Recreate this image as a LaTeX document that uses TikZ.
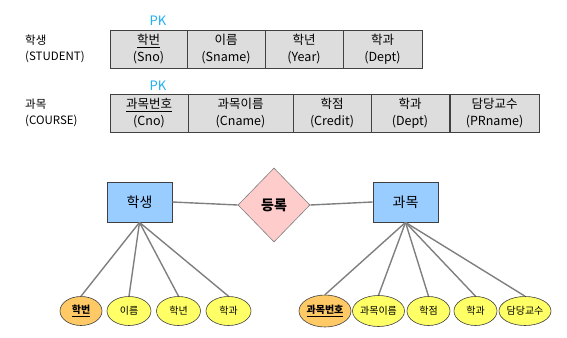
\documentclass[tikz,border=0pt]{standalone}
\usepackage{fontspec}
\setmainfont{Noto Sans CJK KR}
\usetikzlibrary{shapes.geometric}
\definecolor{cellfill}{HTML}{DDDDDD}
\definecolor{edgedark}{HTML}{404040}
\definecolor{pkblue}{HTML}{1FB0F0}
\definecolor{entfill}{HTML}{99CCFF}
\definecolor{relfill}{HTML}{FFCCCC}
\definecolor{attfill}{HTML}{FFFF66}
\definecolor{keyfill}{HTML}{FFC966}
\definecolor{linkgray}{HTML}{7F7F7F}
\tikzset{
  cell/.style={draw=edgedark, fill=cellfill, line width=0.8pt, minimum height=38pt, inner sep=0pt, align=center, font=\fontsize{12.5}{17}\selectfont},
  tlabel/.style={anchor=west, align=left, inner sep=0pt, font=\fontsize{11.5}{16}\selectfont},
  pk/.style={text=pkblue, inner sep=0pt, font=\fontsize{13}{14}\selectfont},
  entity/.style={draw=edgedark, fill=entfill, line width=0.8pt, minimum width=65pt, minimum height=40pt, inner sep=0pt, font=\fontsize{14}{16}\selectfont},
  rel/.style={diamond, draw=linkgray, fill=relfill, line width=0.6pt, minimum width=72pt, minimum height=74pt, inner sep=0pt, font=\bfseries\fontsize{14}{16}\selectfont},
  attr/.style={ellipse, draw=edgedark, fill=attfill, line width=0.6pt, minimum width=44pt, minimum height=29pt, inner sep=0pt, font=\fontsize{10}{11}\selectfont},
  keyattr/.style={attr, fill=keyfill, font=\bfseries\fontsize{10}{11}\selectfont},
  link/.style={draw=linkgray, line width=1.4pt}
}
\begin{document}
\begin{tikzpicture}[x=1pt,y=-1pt]
\useasboundingbox (0,0) rectangle (567,337);
% STUDENT table
\node[tlabel] (lstu) at (25,49) {학생\\(STUDENT)};
\node[pk] (pk1) at (158,21) {PK};
\node[cell, minimum width=77pt] (s1) at (148.5,49) {\underline{학번}\\(Sno)};
\node[cell, minimum width=78pt] (s2) at (226,49) {이름\\(Sname)};
\node[cell, minimum width=78pt] (s3) at (304,49) {학년\\(Year)};
\node[cell, minimum width=79pt] (s4) at (382.5,49) {학과\\(Dept)};
% COURSE table
\node[tlabel] (lcou) at (25,113) {과목\\(COURSE)};
\node[pk] (pk2) at (158,86) {PK};
\node[cell, minimum width=78pt] (c1) at (149,113) {\underline{과목번호}\\(Cno)};
\node[cell, minimum width=105pt] (c2) at (240.5,113) {과목이름\\(Cname)};
\node[cell, minimum width=78pt] (c3) at (332,113) {학점\\(Credit)};
\node[cell, minimum width=78pt] (c4) at (410,113) {학과\\(Dept)};
\node[cell, minimum width=89pt] (c5) at (494.5,113) {담당교수\\(PRname)};
% ER diagram
\node[entity] (stu) at (139.5,202) {학생};
\node[rel] (reg) at (274,205) {등록};
\node[entity] (cou) at (405.5,202) {과목};
\draw[link] (stu.east) -- (reg.west);
\draw[link] (reg.east) -- (cou.west);
% student attributes
\node[keyattr, minimum width=42pt] (a1) at (81,311) {\underline{학번}};
\node[attr] (a2) at (129,311) {이름};
\node[attr] (a3) at (178.5,311) {학년};
\node[attr, minimum width=45pt] (a4) at (228.5,311) {학과};
\foreach \a in {a1,a2,a3,a4} \draw[link] (stu.south) -- (\a.north);
% course attributes
\node[keyattr, minimum width=48pt, minimum height=32pt] (b1) at (325,311) {\underline{과목번호}};
\node[attr, minimum width=49pt, minimum height=31pt] (b2) at (378.5,311) {과목이름};
\node[attr, minimum width=43pt] (b3) at (428.5,311) {학점};
\node[attr, minimum width=43pt] (b4) at (475.5,311) {학과};
\node[attr, minimum width=44pt] (b5) at (525,311) {담당교수};
\foreach \b in {b1,b2,b3,b4,b5} \draw[link] (cou.south) -- (\b.north);
\end{tikzpicture}
\end{document}
